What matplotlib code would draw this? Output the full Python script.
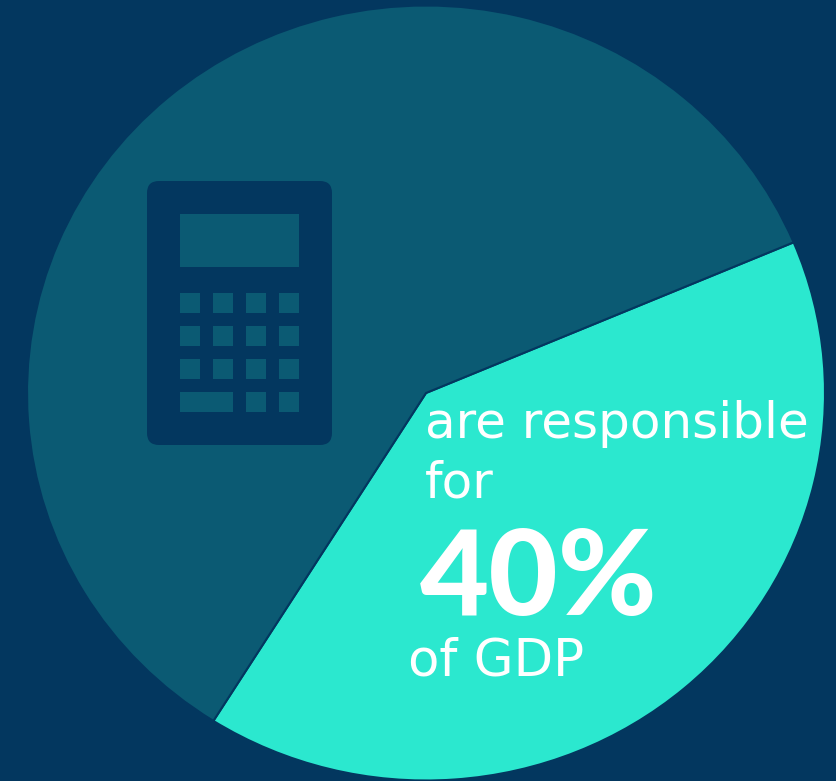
import matplotlib
matplotlib.use("Agg")
import matplotlib.pyplot as plt
from matplotlib.patches import FancyBboxPatch, Rectangle

# pie values
shares = [40.3, 59.7]
slice_colors = ["#2BE8CF", "#0B5A73"]
BG = "#03375F"

W, H = 836, 781
fig = plt.figure(figsize=(W / 100, H / 100), dpi=100, facecolor=BG)

# pie is a bit squashed in the original so the aspect is left free
ax = fig.add_axes([27 / W, 1 - 780.5 / H, (825 - 27) / W, (780.5 - 5.5) / H])
ax.pie(shares, colors=slice_colors, startangle=-122.2, radius=1,
       wedgeprops=dict(edgecolor=BG, linewidth=1.5))
ax.set_aspect("auto")
ax.set_xlim(-1, 1)
ax.set_ylim(-1, 1)

# overlay in pixels for the icon and the text
ov = fig.add_axes([0, 0, 1, 1])
ov.set_xlim(0, W)
ov.set_ylim(H, 0)
ov.axis("off")

# calculator icon
ov.add_patch(FancyBboxPatch((159, 193), 161, 240, boxstyle="round,pad=12,rounding_size=12",
                            fc=BG, ec=BG, lw=0))
ov.add_patch(Rectangle((180, 214), 119, 53, fc=slice_colors[1], lw=0))
for y in [293, 326, 359]:
    for x in [180, 213, 246, 279]:
        ov.add_patch(Rectangle((x, y), 20, 20, fc=slice_colors[1], lw=0))
ov.add_patch(Rectangle((180, 392), 53, 20, fc=slice_colors[1], lw=0))
for x in [246, 279]:
    ov.add_patch(Rectangle((x, 392), 20, 20, fc=slice_colors[1], lw=0))

ov.text(425, 438, "are responsible", color="white", fontsize=36, family="DejaVu Sans", va="baseline")
ov.text(425, 498, "for", color="white", fontsize=36, family="DejaVu Sans", va="baseline")
ov.text(420, 615, "40%", color="white", fontsize=86, family=["Lato", "DejaVu Sans"], weight=900, va="baseline")
ov.text(408, 675, "of GDP", color="white", fontsize=37, family="DejaVu Sans", va="baseline")

fig.savefig("out.png", dpi=100, facecolor=BG)
